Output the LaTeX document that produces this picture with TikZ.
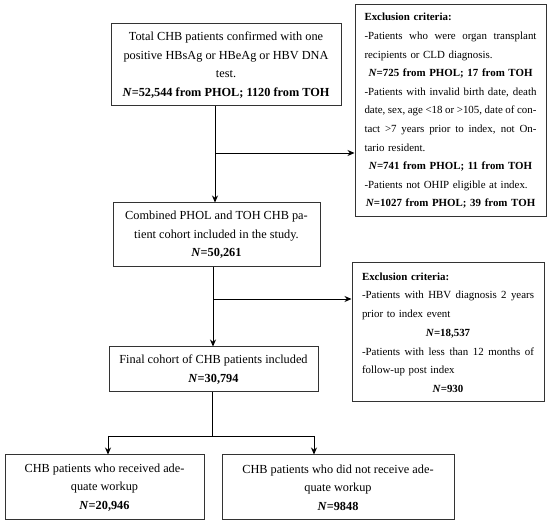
\documentclass[tikz,border=0pt]{standalone}
\usepackage{fontspec}
\setmainfont{Liberation Serif}
\usetikzlibrary{arrows.meta}
\newcommand{\jline}[1]{\parbox{172pt}{\spaceskip=0pt\xspaceskip=0pt\rightskip=0pt\leftskip=0pt\parfillskip=0pt\parindent=0pt #1}}
\newcommand{\nline}[1]{\makebox[172pt][c]{\textbf{#1}}}
\begin{document}
\begin{tikzpicture}[x=1pt,y=-1pt,
  box/.style={draw=black!80, line width=1pt, rectangle, inner sep=0pt,
    font=\fontsize{12.3}{18.6}\selectfont, align=center},
  exbox/.style={box, text width=172pt, align=left, font=\fontsize{10.9}{18.6}\selectfont},
  arr/.style={line width=0.9pt, -{Stealth[length=7pt,width=6pt]}},
  ln/.style={line width=0.9pt}]
\useasboundingbox (0,0) rectangle (550,526);

\node[box, minimum width=230pt, minimum height=82pt] (b1) at (226,65)
  {Total CHB patients confirmed with one\\
   positive HBsAg or HBeAg or HBV DNA\\
   test.\\
   \textbf{\textit{N}=52,544 from PHOL; 1120 from TOH}};

\node[exbox, minimum width=191pt, minimum height=212pt] (e1) at (450.5,111)
  {\textbf{Exclusion criteria:}\\
   \jline{-Patients who were organ transplant}\\
   recipients or CLD diagnosis.\\
   \nline{\textit{N}=725 from PHOL; 17 from TOH}\\
   \jline{-Patients with invalid birth date, death}\\
   \jline{date, sex, age <18 or >105, date of con-}\\
   \jline{tact >7 years prior to index, not On-}\\
   tario resident.\\
   \nline{\textit{N}=741 from PHOL; 11 from TOH}\\
   -Patients not OHIP eligible at index.\\
   \nline{\textit{N}=1027 from PHOL; 39 from TOH}};

\node[box, minimum width=207pt, minimum height=64pt] (b2) at (216.5,235)
  {Combined PHOL and TOH CHB pa-\\
   tient cohort included in the study.\\
   \textbf{\textit{N}=50,261}};

\node[exbox, minimum width=192pt, minimum height=139pt] (e2) at (448,332.5)
  {\textbf{Exclusion criteria:}\\
   \jline{-Patients with HBV diagnosis 2 years}\\
   prior to index event\\
   \nline{\textit{N}=18,537}\\
   \jline{-Patients with less than 12 months of}\\
   follow-up post index\\
   \nline{\textit{N}=930}};

\node[box, minimum width=209pt, minimum height=45pt] (b3) at (213.5,369.5)
  {Final cohort of CHB patients included\\
   \textbf{\textit{N}=30,794}};

\node[box, minimum width=199pt, minimum height=65pt] (b4) at (104.5,487.5)
  {CHB patients who received ade-\\
   quate workup\\
   \textbf{\textit{N}=20,946}};

\node[box, minimum width=232pt, minimum height=65pt] (b5) at (338,487.5)
  {CHB patients who did not receive ade-\\
   quate workup\\
   \textbf{\textit{N}=9848}};

\coordinate (j1) at (215,153);
\coordinate (j2) at (213,299);
\coordinate (j3) at (212,436);
\coordinate (jl) at (108,436);
\coordinate (jr) at (314,436);

\draw[arr] (b1.south -| j1) -- (b2.north -| j1);
\draw[arr] (j1) -- (e1.west |- j1);
\draw[arr] (b2.south -| j2) -- (b3.north -| j2);
\draw[arr] (j2) -- (e2.west |- j2);
\draw[ln] (b3.south -| j3) -- (j3);
\draw[ln] (jl) -- (jr);
\draw[arr] (jl) -- (b4.north -| jl);
\draw[arr] (jr) -- (b5.north -| jr);
\end{tikzpicture}
\end{document}
